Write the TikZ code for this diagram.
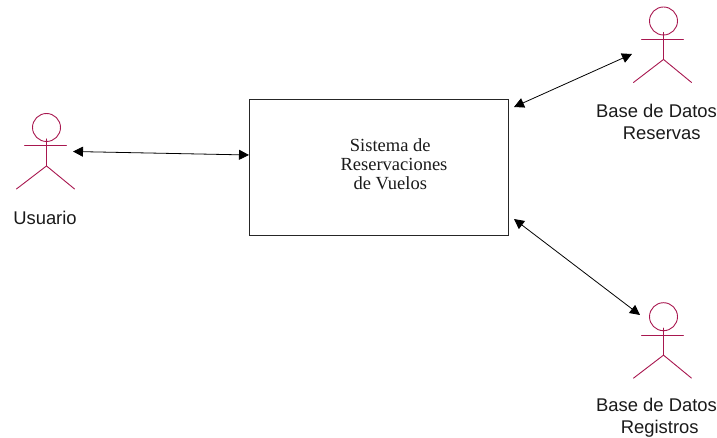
\documentclass[tikz,border=0pt]{standalone}
\usepackage{fontspec}
\setmainfont{Liberation Serif}
\newfontfamily\arialfont{Liberation Sans}
\usetikzlibrary{arrows.meta}
\definecolor{actorred}{HTML}{A8174F}
\definecolor{inkgrey}{HTML}{1A1A1A}
\tikzset{
  actorline/.style={draw=actorred,line width=0.9pt,line cap=round},
  actorhead/.style={circle,draw=actorred,line width=0.9pt,minimum size=28pt,inner sep=0pt},
  sanslabel/.style={align=left,inner sep=0pt,text=inkgrey,font=\arialfont\fontsize{18.4}{22}\selectfont},
  seriflabel/.style={align=left,inner sep=0pt,text=inkgrey,font=\fontsize{18.5}{19.2}\selectfont},
  sysbox/.style={draw=black!85,line width=0.9pt,minimum width=259pt,minimum height=136pt,inner sep=0pt},
  biarrow/.style={draw=black,line width=0.8pt,{Triangle[length=10pt,width=10pt]}-{Triangle[length=10pt,width=10pt]}}
}
\newcommand{\stickman}[2]{%
  \node[actorhead] (#1) at (#2) {};
  \coordinate (#1hip) at ([yshift=-24pt]#1.south);
  \coordinate (#1armL) at ([shift={(-22pt,-4pt)}]#1.south);
  \coordinate (#1armR) at ([shift={(20pt,-4pt)}]#1.south);
  \coordinate (#1legL) at ([shift={(-30pt,-47pt)}]#1.south);
  \coordinate (#1legR) at ([shift={(28pt,-47pt)}]#1.south);
  \draw[actorline] (#1.south) ++(0,3pt) -- (#1hip);
  \draw[actorline] (#1armL) -- (#1armR);
  \draw[actorline] (#1legL) -- (#1hip) -- (#1legR);
}
\begin{document}
\begin{tikzpicture}[x=1pt,y=-1pt]
\useasboundingbox (0,0) rectangle (717,438);
\node[sysbox,anchor=north west] (sys) at (249,99) {};
\node[seriflabel,anchor=center] (systxt) at (394,164) {\hspace*{9.3pt}Sistema de\\Reservaciones\\\hspace*{13pt}de Vuelos};
\stickman{usuario}{46.5,127.5}
\stickman{reservas}{663.5,21}
\stickman{registros}{663.5,316.7}
\node[sanslabel] (usuariotxt) at (45,218) {Usuario};
\node[sanslabel,anchor=center] (reservastxt) at (656.5,122) {Base de Datos\\\hspace*{26.7pt}Reservas};
\node[sanslabel,anchor=center] (registrostxt) at (656.5,417.5) {Base de Datos\\\hspace*{24.7pt}Registros};
\coordinate (usuarioend) at (73,151.5);
\coordinate (sysW) at (249,155);
\coordinate (sysNE) at (514,107);
\coordinate (reservasend) at (632,54);
\coordinate (sysSE) at (514,219);
\coordinate (registrosend) at (640,315);
\draw[biarrow] (usuarioend) -- (sysW);
\draw[biarrow] (sysNE) -- (reservasend);
\draw[biarrow] (sysSE) -- (registrosend);
\end{tikzpicture}
\end{document}
